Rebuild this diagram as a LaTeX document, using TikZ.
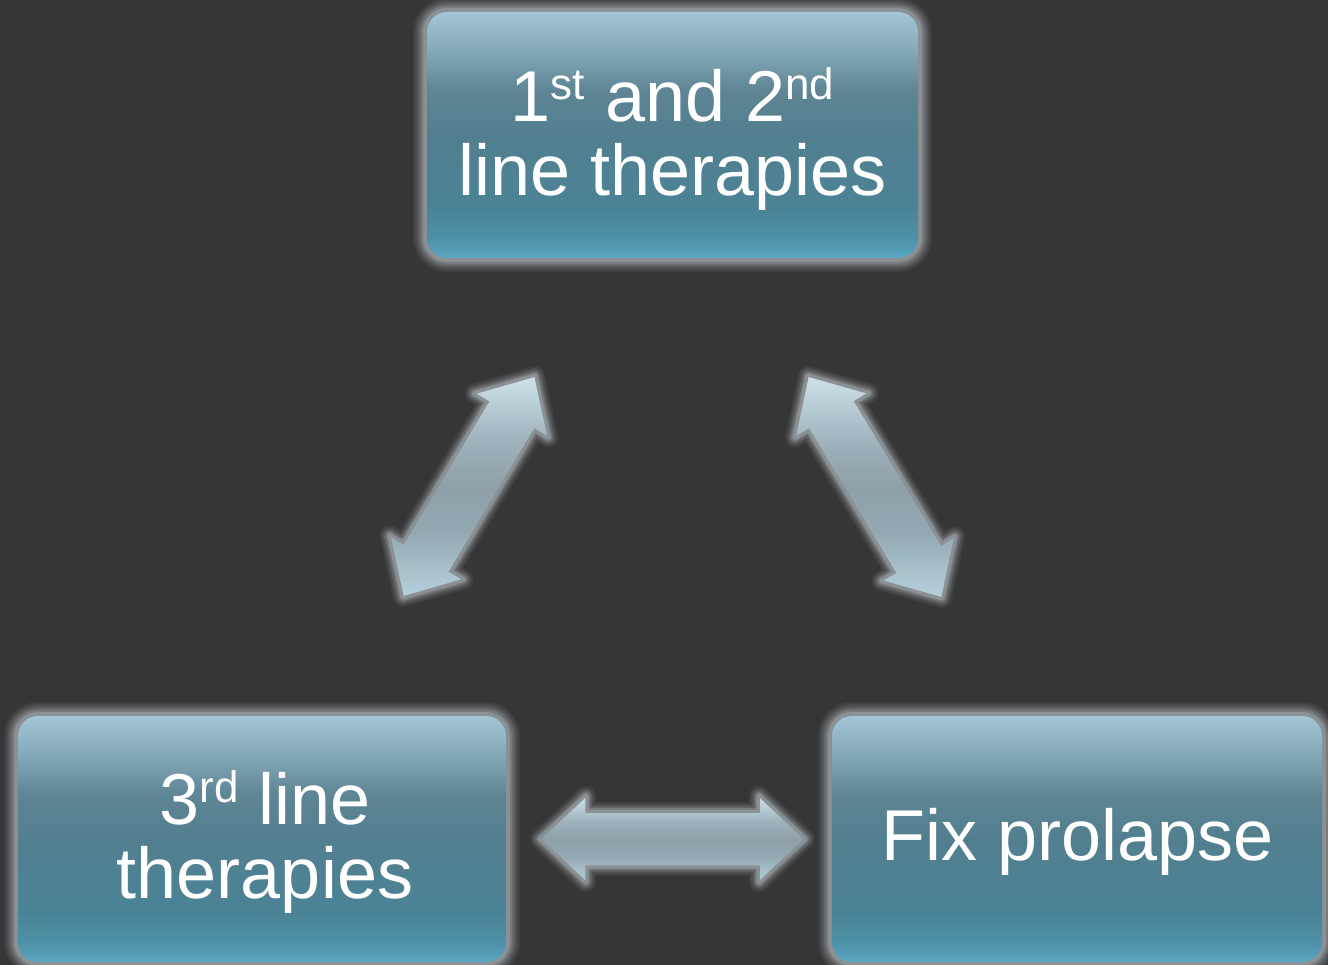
\documentclass[tikz,border=0pt]{standalone}
\usepackage{fontspec}
\setmainfont{Liberation Sans}
\usetikzlibrary{calc}
\definecolor{bg}{RGB}{54,54,54}
\definecolor{glowc}{RGB}{138,144,147}
\definecolor{bx0}{RGB}{92,169,196}
\definecolor{bx1}{RGB}{78,147,170}
\definecolor{bx2}{RGB}{74,131,150}
\definecolor{bx3}{RGB}{82,127,143}
\definecolor{bx4}{RGB}{94,133,148}
\definecolor{bx5}{RGB}{134,170,186}
\definecolor{bx6}{RGB}{162,198,214}
\definecolor{ar0}{RGB}{181,209,221}
\definecolor{ar1}{RGB}{147,169,178}
\definecolor{ar2}{RGB}{142,160,168}
\definecolor{ar3}{RGB}{157,178,187}
\definecolor{ar4}{RGB}{207,226,234}
\pgfdeclareverticalshading{boxshade}{100bp}{color(0bp)=(bx0); color(25bp)=(bx0); color(28.5bp)=(bx1); color(35bp)=(bx2); color(50bp)=(bx3); color(59bp)=(bx4); color(67.5bp)=(bx5); color(75bp)=(bx6); color(100bp)=(bx6)}
\pgfdeclareverticalshading{arrshade}{100bp}{color(0bp)=(ar0); color(25bp)=(ar0); color(40bp)=(ar1); color(50bp)=(ar2); color(60bp)=(ar3); color(75bp)=(ar4); color(100bp)=(ar4)}
\newcommand\supx[1]{\raisebox{22pt}{\fontsize{44}{44}\selectfont #1}}
\tikzset{
  boxnode/.style={rounded corners=20pt, minimum height=246pt, inner sep=0pt,
    shading=boxshade,
    preaction={draw=glowc, draw opacity=0.12, line width=28pt},
    preaction={draw=glowc, draw opacity=0.15, line width=24pt},
    preaction={draw=glowc, draw opacity=0.2, line width=20pt},
    preaction={draw=glowc, draw opacity=0.3, line width=16pt},
    preaction={draw=glowc, draw opacity=0.45, line width=12pt},
    preaction={draw=glowc, line width=8pt}},
  txtnode/.style={text=white, align=center, inner sep=0pt,
    font=\fontsize{72}{74}\selectfont},
  arrglow/.style={draw=glowc, draw opacity=#1, line join=round},
  arrbody/.style={shading=arrshade, draw=glowc, line width=1.5pt, line join=miter}
}
\newcommand\dblarr[2]{%
  \coordinate (#1h) at ($(#1)!46pt!(#2)$);
  \coordinate (#2h) at ($(#2)!46pt!(#1)$);
  \coordinate (#1p1) at ($(#1h)!43pt!90:(#2)$);
  \coordinate (#1p2) at ($(#1h)!27pt!90:(#2)$);
  \coordinate (#2p2) at ($(#2h)!27pt!-90:(#1)$);
  \coordinate (#2p1) at ($(#2h)!43pt!-90:(#1)$);
  \coordinate (#2q1) at ($(#2h)!43pt!90:(#1)$);
  \coordinate (#2q2) at ($(#2h)!27pt!90:(#1)$);
  \coordinate (#1q2) at ($(#1h)!27pt!-90:(#2)$);
  \coordinate (#1q1) at ($(#1h)!43pt!-90:(#2)$);
  \foreach \w/\o in {20/0.12,16/0.18,12/0.3,8/0.5,5/1}{
    \path[arrglow=\o, line width=\w pt] (#1) -- (#1p1) -- (#1p2) -- (#2p2) -- (#2p1) -- (#2) -- (#2q1) -- (#2q2) -- (#1q2) -- (#1q1) -- cycle;}
  \shade[arrbody] (#1) -- (#1p1) -- (#1p2) -- (#2p2) -- (#2p1) -- (#2) -- (#2q1) -- (#2q2) -- (#1q2) -- (#1q1) -- cycle;
}
\begin{document}
\begin{tikzpicture}[x=1pt,y=-1pt]
\useasboundingbox (0,0) rectangle (1328,965);
\fill[bg] (0,0) rectangle (1328,965);
\node[boxnode, minimum width=491pt] (top) at (672.5,135) {};
\node[boxnode, minimum width=488pt] (left) at (262,839) {};
\node[boxnode, minimum width=490pt] (right) at (1077,839) {};
\node[txtnode] (toptext) at ($(top.center)+(0,4)$) {1\supx{st} and 2\supx{nd}\\line therapies};
\node[txtnode] (lefttext) at ($(left.center)+(3,3)$) {3\supx{rd} line\\therapies};
\node[txtnode] (righttext) at ($(right.center)+(1,3)$) {Fix prolapse};
\coordinate (la) at (535,376);
\coordinate (lb) at (403,597);
\coordinate (ra) at (808,376);
\coordinate (rb) at (942,598);
\coordinate (ha) at (540,839);
\coordinate (hb) at (805,839);
\dblarr{la}{lb}
\dblarr{ra}{rb}
\dblarr{ha}{hb}
\end{tikzpicture}
\end{document}
